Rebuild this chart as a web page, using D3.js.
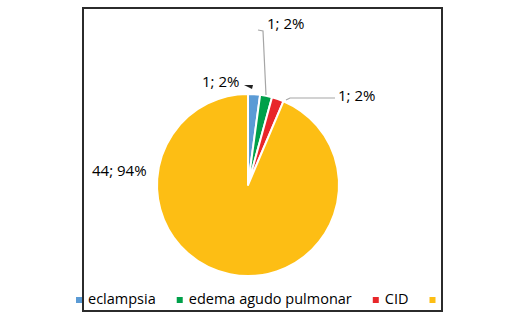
<!DOCTYPE html>
<html><head><meta charset="utf-8">
<script src="https://cdn.jsdelivr.net/npm/d3@7"></script>
<style>body{margin:0;background:#fff}svg{display:block}text{font-family:"Open Sans",sans-serif;fill:#000}</style>
</head><body>
<svg id="c" width="510" height="328"></svg>
<script>
const categories = ["eclampsia", "edema agudo pulmonar", "CID", ""];
const values = [1, 1, 1, 44];
const colors = ["#5B9BD5", "#00A04A", "#E8262A", "#FDBE14"];

const svg = d3.select("#c");
svg.append("rect").attr("x", 83).attr("y", 8).attr("width", 359).attr("height", 303)
  .attr("fill", "#fff").attr("stroke", "#2b2b2b").attr("stroke-width", 2);

const cx = 248, cy = 185, r = 91;
const total = d3.sum(values);
const pie = d3.pie().sort(null).value(d => d)(values);
const arc = d3.arc().innerRadius(0).outerRadius(r);
const g = svg.append("g").attr("transform", `translate(${cx},${cy})`);
g.selectAll("path").data(pie).join("path")
  .attr("d", arc).attr("fill", (d, i) => colors[i])
  .attr("stroke", "#fff").attr("stroke-width", 2).attr("stroke-linejoin", "round");

const lab = (d) => `${d.value}; ${Math.round(d.value / total * 100)}%`;
const labelPos = [
  {x: 202, y: 87},
  {x: 267, y: 29},
  {x: 338, y: 101},
  {x: 92, y: 176}
];
const lc = "#a6a6a6";
svg.append("polyline").attr("points", "258,30 263,31 266,95").attr("fill", "none").attr("stroke", lc).attr("stroke-width", 1.2);
svg.append("polyline").attr("points", "335,98 290,98 286,100").attr("fill", "none").attr("stroke", lc).attr("stroke-width", 1.2);
svg.append("path").attr("d", "M244,85 L253,85 L252,89 Z").attr("fill", "#222");

svg.selectAll("text.lab").data(pie).join("text").attr("class", "lab")
  .attr("x", (d, i) => labelPos[i].x).attr("y", (d, i) => labelPos[i].y)
  .attr("font-size", 15).text(lab);

const lg = svg.append("g");
let x = 76;
categories.forEach((c, i) => {
  lg.append("rect").attr("x", x).attr("y", 297).attr("width", 6).attr("height", 6).attr("fill", colors[i]);
  const t = lg.append("text").attr("x", x + 12).attr("y", 304).attr("font-size", 14.5).text(c);
  const w = c ? t.node().getComputedTextLength() : 0;
  x += 12 + w + 21;
});
</script>
</body></html>
